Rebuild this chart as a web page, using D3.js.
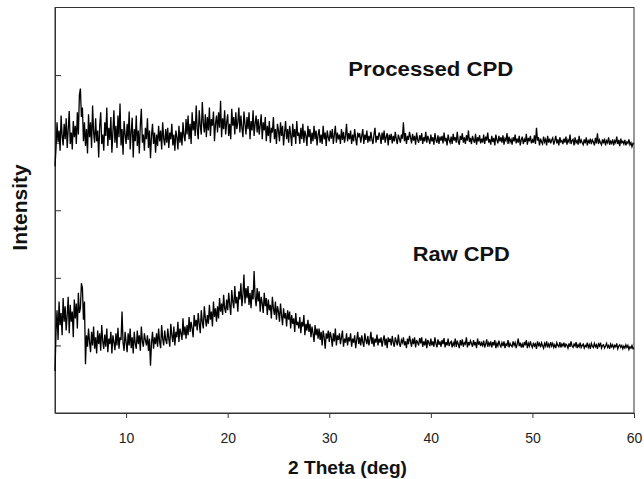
<!DOCTYPE html>
<html>
<head>
<meta charset="utf-8">
<script src="https://cdn.jsdelivr.net/npm/d3@7"></script>
<style>
  body { margin: 0; background: #fff; }
  text { font-family: Arial, "Liberation Sans", Helvetica, sans-serif; }
  .axis path, .axis line { stroke: #333; }
  .line { fill: none; stroke: #000; stroke-width: 1.3; }
</style>
</head>
<body>
<div id="xrd-chart"></div>
<script>
// sampling of the patterns: 2 theta from 3 deg, every 0.1 deg
var thetaStart = 3, thetaStep = 0.1;

// intensity (arb. units, one row per degree)
var processedCPD = [
  365, 392, 430, 401, 418, 388, 440, 410, 396, 428,
  405, 436, 392, 420, 447, 398, 415, 390, 432, 408,
  425, 398, 445, 412, 470, 480, 438, 452, 402, 430,
  395, 420, 384, 442, 408, 430, 392, 455, 415, 400,
  436, 402, 418, 378, 425, 445, 398, 412, 388, 430,
  410, 452, 395, 422, 404, 438, 385, 416, 448, 400,
  425, 392, 440, 408, 458, 396, 420, 382, 432, 412,
  398, 428, 404, 446, 390, 415, 437, 378, 420, 402,
  440, 395, 418, 384, 426, 450, 400, 412, 388, 422,
  405, 436, 392, 418, 377, 410, 428, 398, 415, 385,
  412, 395, 425, 402, 418, 390, 430, 406, 396, 420,
  400, 422, 392, 415, 405, 428, 396, 412, 388, 418,
  408, 390, 425, 400, 416, 396, 430, 410, 402, 435,
  412, 440, 405, 428, 398, 445, 418, 432, 410, 455,
  420, 405, 448, 425, 412, 460, 430, 415, 442, 408,
  438, 418, 452, 410, 435, 425, 446, 402, 428, 440,
  415, 445, 422, 462, 408, 436, 420, 448, 412, 430,
  442, 410, 428, 405, 450, 425, 438, 412, 445, 420,
  430, 452, 415, 440, 422, 408, 446, 428, 412, 438,
  420, 445, 405, 432, 418, 448, 410, 428, 440, 415,
  435, 412, 426, 442, 405, 430, 418, 438, 402, 425,
  410, 432, 400, 422, 415, 438, 405, 420, 398, 428,
  418, 402, 430, 410, 425, 396, 415, 432, 405, 420,
  400, 425, 412, 395, 428, 408, 420, 398, 432, 410,
  415, 398, 422, 405, 428, 400, 418, 410, 395, 425,
  408, 420, 398, 415, 402, 425, 405, 418, 396, 412,
  420, 400, 412, 398, 425, 405, 415, 395, 418, 408,
  402, 418, 406, 420, 398, 412, 425, 400, 415, 405,
  412, 398, 420, 404, 416, 400, 410, 428, 402, 414,
  405, 418, 398, 412, 402, 420, 406, 396, 415, 408,
  414, 400, 410, 420, 398, 412, 404, 418, 400, 410,
  402, 416, 405, 398, 412, 422, 400, 410, 404, 415,
  410, 398, 415, 404, 418, 400, 408, 414, 396, 412,
  404, 413, 399, 410, 402, 416, 405, 398, 412, 406,
  400, 412, 406, 430, 402, 414, 398, 410, 404, 416,
  408, 399, 413, 403, 410, 397, 415, 404, 400, 411,
  403, 414, 398, 408, 402, 416, 400, 410, 405, 398,
  412, 402, 408, 397, 414, 404, 400, 411, 398, 409,
  403, 410, 399, 415, 402, 407, 396, 412, 404, 400,
  409, 398, 413, 403, 408, 400, 416, 402, 397, 410,
  404, 414, 400, 408, 398, 411, 403, 418, 401, 407,
  398, 410, 404, 400, 413, 397, 408, 402, 411, 399,
  406, 400, 412, 398, 409, 403, 415, 400, 405, 397,
  410, 401, 407, 396, 412, 404, 399, 410, 402, 408,
  400, 411, 397, 406, 403, 414, 398, 409, 401, 405,
  397, 408, 402, 412, 399, 406, 400, 410, 396, 404,
  409, 398, 405, 401, 413, 397, 407, 402, 410, 399,
  404, 400, 411, 398, 422, 403, 408, 396, 406, 401,
  398, 409, 401, 405, 396, 410, 400, 406, 399, 404,
  407, 397, 403, 410, 399, 405, 396, 408, 401, 403,
  398, 406, 400, 409, 397, 404, 401, 412, 398, 403,
  405, 396, 408, 400, 403, 397, 410, 399, 404, 400,
  397, 405, 399, 408, 396, 403, 400, 406, 398, 404,
  401, 396, 407, 399, 414, 398, 404, 400, 397, 405,
  399, 406, 396, 403, 400, 408, 397, 402, 399, 405,
  396, 403, 400, 409, 398, 404, 395, 406, 400, 402,
  398, 404, 396, 401, 399, 405, 397, 400, 394, 399,
  398
];

var rawCPD = [
  62, 120, 152, 108, 165, 130, 148, 115, 170, 135,
  158, 122, 145, 172, 118, 160, 135, 150, 112, 168,
  140, 162, 125, 178, 148, 155, 192, 185, 138, 165,
  72, 115, 98, 125, 105, 90, 120, 100, 128, 95,
  112, 88, 122, 102, 118, 92, 130, 106, 95, 116,
  98, 125, 90, 110, 102, 120, 88, 115, 105, 93,
  118, 100, 126, 95, 112, 108, 150, 104, 92, 120,
  105, 90, 118, 100, 125, 96, 112, 88, 120, 103,
  95, 122, 102, 115, 92, 128, 106, 98, 118, 108,
  100, 115, 92, 110, 70, 104, 120, 95, 112, 102,
  118, 98, 125, 105, 96, 130, 110, 100, 122, 108,
  102, 125, 110, 98, 132, 115, 105, 128, 100, 120,
  112, 135, 105, 125, 118, 108, 140, 115, 128, 110,
  130, 115, 142, 120, 135, 125, 112, 145, 128, 138,
  122, 148, 132, 118, 152, 135, 125, 158, 140, 128,
  145, 132, 160, 138, 150, 128, 165, 142, 155, 135,
  158, 140, 170, 150, 162, 145, 175, 155, 148, 168,
  152, 178, 160, 145, 182, 165, 155, 188, 162, 172,
  150, 180, 168, 192, 158, 175, 205, 162, 185, 170,
  188, 160, 178, 155, 182, 168, 210, 172, 158, 185,
  165, 180, 150, 172, 162, 148, 178, 158, 170, 145,
  168, 152, 160, 140, 172, 155, 145, 165, 138, 158,
  150, 135, 162, 145, 130, 155, 140, 148, 128, 152,
  138, 150, 125, 145, 132, 140, 120, 148, 130, 135,
  125, 142, 118, 135, 128, 145, 115, 132, 122, 138,
  120, 132, 112, 128, 118, 105, 130, 115, 125, 110,
  125, 108, 120, 100, 122, 112, 95, 118, 110, 122,
  105, 120, 112, 98, 118, 106, 125, 100, 115, 108,
  118, 102, 112, 122, 98, 110, 104, 118, 100, 112,
  106, 118, 98, 110, 104, 115, 96, 108, 120, 102,
  112, 100, 115, 105, 98, 118, 108, 102, 114, 100,
  108, 120, 102, 112, 98, 110, 104, 116, 100, 110,
  104, 112, 98, 108, 115, 100, 110, 96, 112, 105,
  110, 100, 114, 104, 98, 112, 106, 100, 116, 103,
  98, 108, 104, 112, 100, 106, 96, 110, 102, 114,
  106, 98, 110, 102, 112, 97, 108, 104, 100, 111,
  103, 112, 98, 106, 100, 110, 96, 108, 104, 99,
  110, 100, 106, 98, 112, 103, 97, 109, 101, 106,
  98, 108, 102, 111, 97, 105, 100, 110, 99, 104,
  106, 97, 104, 100, 110, 98, 107, 102, 96, 108,
  100, 109, 98, 104, 102, 112, 97, 105, 100, 107,
  103, 98, 108, 100, 105, 96, 110, 101, 106, 99,
  104, 100, 107, 97, 102, 109, 98, 104, 100, 106,
  97, 105, 100, 108, 96, 103, 99, 107, 101, 98,
  104, 99, 106, 96, 102, 100, 108, 97, 103, 100,
  98, 106, 100, 104, 96, 102, 110, 99, 104, 97,
  102, 97, 105, 100, 108, 96, 103, 99, 106, 100,
  97, 104, 99, 102, 95, 106, 100, 103, 97, 104,
  100, 96, 103, 99, 106, 97, 102, 98, 105, 99,
  103, 97, 101, 96, 104, 100, 98, 105, 97, 102,
  99, 104, 97, 102, 100, 96, 103, 98, 106, 99,
  97, 102, 99, 105, 96, 101, 98, 104, 97, 100,
  102, 96, 100, 98, 104, 97, 101, 95, 103, 99,
  97, 103, 98, 101, 95, 102, 99, 104, 96, 100,
  101, 96, 99, 103, 97, 100, 95, 102, 98, 101,
  96, 100, 98, 103, 95, 99, 101, 97, 100, 95,
  99, 96, 101, 97, 100, 94, 98, 96, 100, 95,
  96
];

var xTicks = [10, 20, 30, 40, 50, 60];
var yTicks = [100, 200, 300, 400, 500];
var seriesLabels = [
  {name: "Processed CPD", theta: 40.0, value: 499, len: 165},
  {name: "Raw CPD", theta: 43.0, value: 225, len: 97}
];

// set the dimensions and margins of the graph
var margin = {top: 7.5, right: 10, bottom: 66, left: 55},
width = 644 - margin.left - margin.right,
height = 479 - margin.top - margin.bottom;

//Set the ranges
var x = d3.scaleLinear().domain([3, 60]).range([0, width]);
var y = d3.scaleLinear().domain([0, 600]).range([height, 0]);

//Adds the svg canvas
var svg = d3.select("#xrd-chart")
  .append("svg")
  .attr("width", width + margin.left + margin.right)
  .attr("height", height + margin.top + margin.bottom)
  .append("g")
  .attr("transform", "translate(" + margin.left + "," + margin.top + ")");

function toPoints(values) {
  return values.map(function(v, i) {
    return {theta: thetaStart + i * thetaStep, value: v};
  });
}

//Define the line
var valueline = d3.line()
  .x(function(d) { return x(d.theta); })
  .y(function(d) { return y(d.value); });

// frame
svg.append("rect")
  .attr("width", width)
  .attr("height", height)
  .attr("fill", "none")
  .attr("stroke", "#333")
  .attr("stroke-width", 1);

//Add the Y Axis (inward ticks, no labels)
svg.append("g")
  .attr("class", "y axis")
  .call(d3.axisLeft(y).tickValues(yTicks).tickSize(-6).tickSizeOuter(0).tickFormat(""));

//Add the X Axis
var xAxis = svg.append("g")
  .attr("class", "x axis")
  .attr("transform", "translate(0," + height + ")")
  .call(d3.axisBottom(x).tickValues(xTicks).tickSize(5).tickSizeOuter(0).tickPadding(15));
xAxis.selectAll("text")
  .attr("font-size", 14)
  .attr("fill", "#222");

//Add the patterns
[processedCPD, rawCPD].forEach(function(s) {
  svg.append("path")
    .attr("class", "line")
    .attr("d", valueline(toPoints(s)));
});

// series labels
svg.selectAll(".series-label")
  .data(seriesLabels)
  .enter().append("text")
  .attr("class", "series-label")
  .attr("x", function(d) { return x(d.theta); })
  .attr("y", function(d) { return y(d.value); })
  .attr("text-anchor", "middle")
  .attr("font-size", 20)
  .attr("font-weight", "bold")
  .attr("fill", "#111")
  .attr("textLength", function(d) { return d.len; })
  .attr("lengthAdjust", "spacingAndGlyphs")
  .text(function(d) { return d.name; });

// axis titles
svg.append("text")
  .attr("x", (288 + 407) / 2 - margin.left)
  .attr("y", height + 61)
  .attr("text-anchor", "middle")
  .attr("font-size", 18)
  .attr("font-weight", "bold")
  .attr("fill", "#111")
  .attr("textLength", 119)
  .attr("lengthAdjust", "spacingAndGlyphs")
  .text("2 Theta (deg)");

svg.append("text")
  .attr("transform", "rotate(-90)")
  .attr("x", -(207.5 - margin.top))
  .attr("y", 27 - margin.left)
  .attr("text-anchor", "middle")
  .attr("font-size", 21)
  .attr("font-weight", "bold")
  .attr("fill", "#111")
  .text("Intensity");
</script>
</body>
</html>
